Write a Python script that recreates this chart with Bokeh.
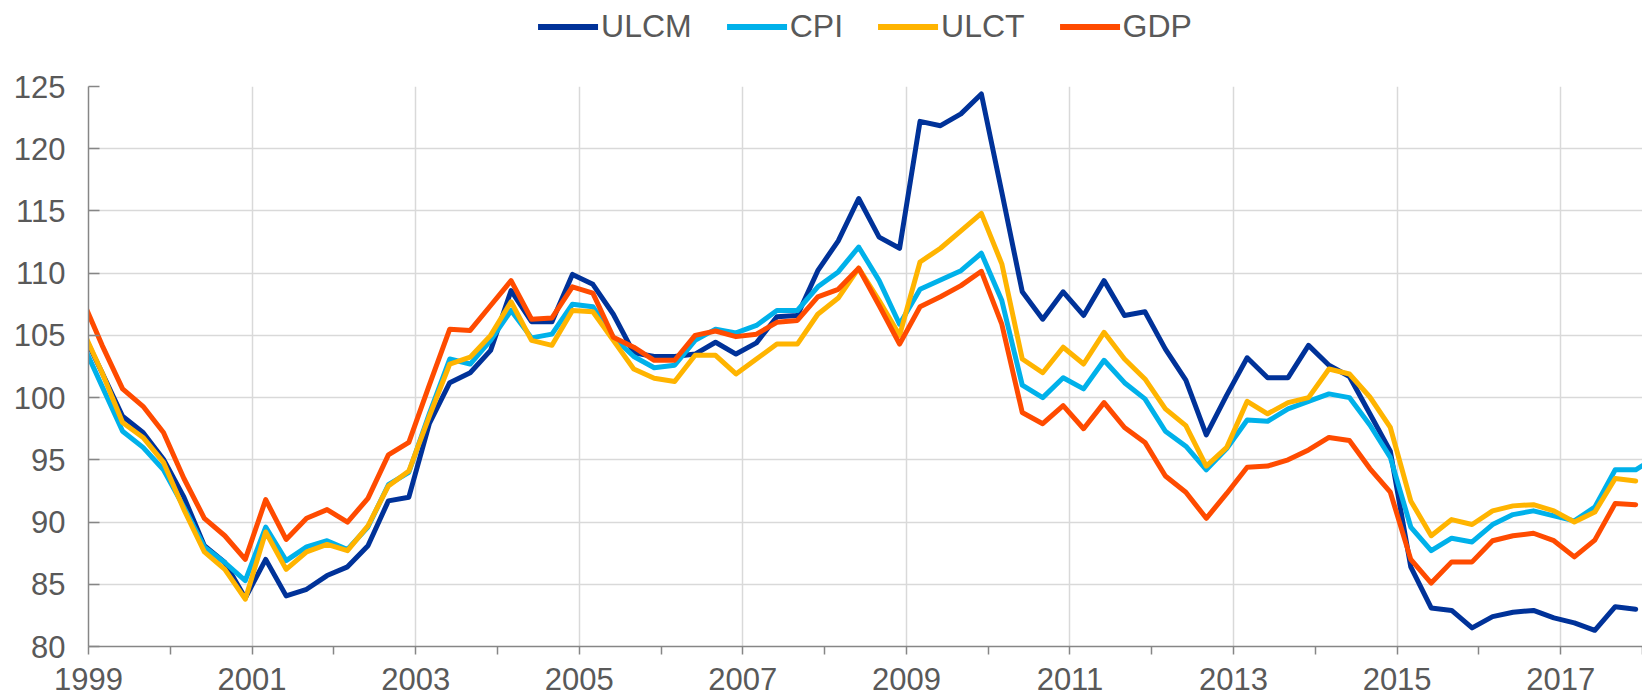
import pandas as pd
from bokeh.plotting import figure
from bokeh.layouts import column
from bokeh.models import Range1d, FixedTicker, Legend, LegendItem, ColumnDataSource
from bokeh.embed import file_html
from bokeh.resources import INLINE

# Quarterly observations, plotted at the first day of the quarter's last month
quarter_dates = pd.date_range("1998-12-01", periods=78, freq="3MS")
x_all = [d.year + (d.month - 1) / 12 for d in quarter_dates]

series_names = ["ULCM", "CPI", "ULCT", "GDP"]
series_colors = ["#003299", "#00b1ea", "#ffb400", "#ff4b00"]

ULCM = [105.4, 102.0, 98.5, 97.2, 95.05, 92.0, 88.1, 86.75, 83.9, 87.0,
        84.07, 84.6, 85.7, 86.4, 88.1, 91.7, 92.0, 97.9, 101.2, 102.0,
        103.8, 108.6, 106.1, 106.1, 109.9, 109.1, 106.7, 103.6, 103.3, 103.3,
        103.5, 104.45, 103.5, 104.4, 106.5, 106.6, 110.2, 112.6, 116.0, 112.9,
        112.0, 122.2, 121.85, 122.8, 124.4, 116.5, 108.5, 106.3, 108.5, 106.6,
        109.4, 106.6, 106.9, 103.9, 101.4, 97.0, 100.2, 103.2, 101.6, 101.6,
        104.2, 102.6, 101.7, 98.7, 95.7, 86.4, 83.1, 82.9, 81.5, 82.4,
        82.75, 82.9, 82.3, 81.9, 81.3, 83.2, 83.0]

CPI = [104.5, 100.9, 97.3, 96.0, 94.2, 91.2, 88.0, 86.75, 85.3, 89.6,
       86.9, 88.0, 88.5, 87.8, 89.6, 93.0, 94.0, 98.7, 103.1, 102.7,
       104.6, 107.0, 104.8, 105.1, 107.5, 107.3, 104.85, 103.3, 102.4, 102.6,
       104.6, 105.5, 105.2, 105.8, 107.0, 107.0, 108.9, 110.1, 112.1, 109.4,
       105.9, 108.7, 109.45, 110.2, 111.6, 107.8, 101.0, 100.0, 101.6, 100.7,
       103.0, 101.2, 99.9, 97.3, 96.1, 94.2, 95.9, 98.2, 98.1, 99.1,
       99.7, 100.3, 100.0, 97.8, 95.2, 89.6, 87.7, 88.7, 88.4, 89.8,
       90.6, 90.9, 90.5, 90.1, 91.2, 94.2, 94.2, 95.2]

ULCT = [105.6, 102.0, 98.0, 96.8, 94.8, 91.0, 87.6, 86.2, 83.8, 89.2,
        86.2, 87.6, 88.2, 87.7, 89.7, 92.9, 94.1, 98.5, 102.7, 103.25,
        105.0, 107.7, 104.6, 104.2, 107.0, 106.9, 104.6, 102.3, 101.55, 101.3,
        103.4, 103.4, 101.9, 103.1, 104.3, 104.3, 106.7, 108.0, 110.4, 107.8,
        105.0, 110.9, 112.0, 113.4, 114.8, 110.75, 103.1, 102.0, 104.05, 102.7,
        105.25, 103.1, 101.5, 99.1, 97.75, 94.5, 96.0, 99.7, 98.7, 99.6,
        100.0, 102.3, 101.9, 100.05, 97.6, 91.7, 88.9, 90.2, 89.8, 90.9,
        91.3, 91.4, 90.9, 90.0, 90.8, 93.5, 93.3]

GDP = [108.0, 104.2, 100.7, 99.3, 97.2, 93.5, 90.3, 88.9, 87.0, 91.8,
       88.6, 90.3, 91.0, 90.0, 91.9, 95.4, 96.4, 101.0, 105.5, 105.4,
       107.4, 109.4, 106.3, 106.4, 108.9, 108.4, 104.85, 104.05, 103.0, 103.0,
       105.0, 105.35, 104.9, 105.1, 106.05, 106.2, 108.1, 108.7, 110.4, 107.4,
       104.3, 107.3, 108.1, 109.0, 110.15, 105.9, 98.8, 97.9, 99.35, 97.5,
       99.6, 97.6, 96.4, 93.7, 92.4, 90.3, 92.3, 94.4, 94.5, 95.0,
       95.8, 96.8, 96.55, 94.3, 92.4, 87.0, 85.1, 86.8, 86.8, 88.5,
       88.9, 89.1, 88.5, 87.2, 88.55, 91.5, 91.4]

x_ticks = [1999, 2001, 2003, 2005, 2007, 2009, 2011, 2013, 2015, 2017]
x_tick_labels = ["1999", "2001", "2003", "2005", "2007", "2009", "2011", "2013", "2015", "2017"]
x_minor_ticks = [2000, 2002, 2004, 2006, 2008, 2010, 2012, 2014, 2016, 2018]
y_ticks = [80, 85, 90, 95, 100, 105, 110, 115, 120, 125]

FONT = "Liberation Sans"
TEXT_COLOR = "#595959"
AXIS_COLOR = "#868686"
GRID_COLOR = "#d9d9d9"
LEGEND_H = 52

series_values = [ULCM, CPI, ULCT, GDP]

# ---------------- main chart ----------------
p = figure(width=1642, height=697 - LEGEND_H, output_backend="svg", toolbar_location=None,
           x_range=Range1d(1999.0, 2018.0), y_range=Range1d(80, 125),
           min_border_left=88, min_border_right=0, min_border_top=86 - LEGEND_H,
           min_border_bottom=51)
p.outline_line_color = None
p.background_fill_color = "white"
p.border_fill_color = "white"

for name, color, vals in zip(series_names, series_colors, series_values):
    src = ColumnDataSource(dict(x=x_all[:len(vals)], y=vals))
    p.line("x", "y", source=src, line_color=color, line_width=5,
           line_join="round", line_cap="round")

xa = p.xaxis[0]
xa.ticker = FixedTicker(ticks=x_ticks, minor_ticks=x_minor_ticks)
xa.major_label_overrides = {t: l for t, l in zip(x_ticks, x_tick_labels)}
xa.major_tick_in = 0
xa.major_tick_out = 8
xa.minor_tick_in = 0
xa.minor_tick_out = 8
xa.major_tick_line_color = AXIS_COLOR
xa.minor_tick_line_color = AXIS_COLOR
xa.major_tick_line_width = 1.5
xa.minor_tick_line_width = 1.5
xa.axis_line_color = AXIS_COLOR
xa.axis_line_width = 1.5
xa.major_label_text_font = FONT
xa.major_label_text_font_size = "31px"
xa.major_label_text_color = TEXT_COLOR
xa.major_label_standoff = 13

ya = p.yaxis[0]
ya.ticker = FixedTicker(ticks=y_ticks)
ya.major_tick_in = 11
ya.major_tick_out = 0
ya.minor_tick_line_color = None
ya.major_tick_line_color = AXIS_COLOR
ya.major_tick_line_width = 1.5
ya.axis_line_color = AXIS_COLOR
ya.axis_line_width = 1.5
ya.major_label_text_font = FONT
ya.major_label_text_font_size = "31px"
ya.major_label_text_color = TEXT_COLOR
ya.major_label_standoff = 23

p.xgrid.ticker = FixedTicker(ticks=x_ticks)
p.ygrid.ticker = FixedTicker(ticks=y_ticks)
p.xgrid.grid_line_color = GRID_COLOR
p.ygrid.grid_line_color = GRID_COLOR
p.xgrid.grid_line_width = 1.5
p.ygrid.grid_line_width = 1.5

# ---------------- legend strip (same series, drawn out of its view) ----------------
lg = figure(width=1642, height=LEGEND_H, output_backend="svg", toolbar_location=None,
            x_axis_type=None, y_axis_type=None,
            x_range=Range1d(1999.0, 2018.0), y_range=Range1d(0, 1),
            min_border_left=88, min_border_right=0, min_border_top=0, min_border_bottom=0)
lg.outline_line_color = None
lg.grid.visible = False
lg.background_fill_color = "white"
lg.border_fill_color = "white"
legend_items = []
for name, color, vals in zip(series_names, series_colors, series_values):
    key = lg.line(x=x_all[:len(vals)], y=vals, line_color=color, line_width=6,
                  line_cap="round")
    legend_items.append(LegendItem(label=name, renderers=[key]))

legend = Legend(items=legend_items, orientation="horizontal", location="center",
                glyph_width=60, glyph_height=24, label_standoff=3, spacing=35,
                padding=0, margin=0, border_line_color=None, background_fill_alpha=0,
                label_text_font=FONT, label_text_font_size="32px",
                label_text_color=TEXT_COLOR)
lg.add_layout(legend)

layout = column(lg, p, spacing=0)
open("out.html", "w").write(file_html(layout, INLINE))
